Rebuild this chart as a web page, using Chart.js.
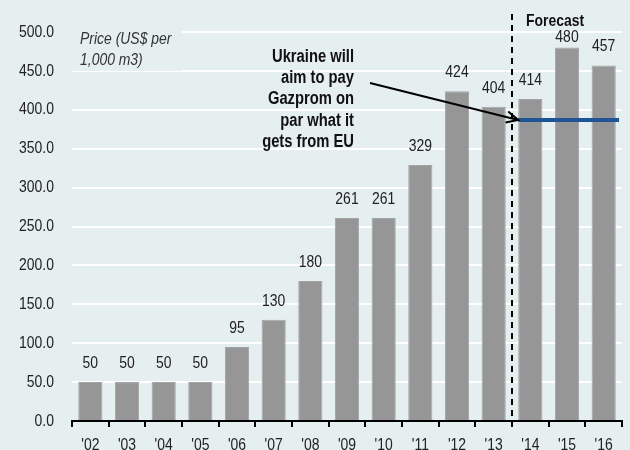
<!DOCTYPE html>
<html>
<head>
<meta charset="utf-8">
<script src="https://cdn.jsdelivr.net/npm/chart.js@4/dist/chart.umd.min.js"></script>
<style>
html,body{margin:0;padding:0;background:#e6eff0;}
#wrap{width:630px;height:450px;}
</style>
</head>
<body>
<div id="wrap"><canvas id="c" width="630" height="450"></canvas></div>
<script>
const categories = ["'02","'03","'04","'05","'06","'07","'08","'09","'10","'11","'12","'13","'14","'15","'16"];
const prices = [50,50,50,50,95,130,180,261,261,329,424,404,414,480,457];
const priceLabels = ["50","50","50","50","95","130","180","261","261","329","424","404","414","480","457"];
const parityPrice = 387;
const forecastStartIndex = 12;
const unitLabel = ["Price (US$ per", "1,000 m3)"];
const noteLines = ["Ukraine will", "aim to pay", "Gazprom on", "par what it", "gets from EU"];
const forecastLabel = "Forecast";

// Narrow (condensed) type: Liberation Sans squeezed horizontally, like Arial Narrow
const FONT = "'Liberation Sans', Arial, sans-serif";
const SQUEEZE = 0.82;

const decor = {
  id: 'decor',
  beforeDraw(chart) {
    const ctx = chart.ctx;
    if (!ctx._narrowPatched) {
      const orig = CanvasRenderingContext2D.prototype.fillText;
      ctx.fillText = function (t, x, y, mw) {
        this.save();
        this.translate(x, y);
        this.scale(SQUEEZE, 1);
        orig.call(this, t, 0, 0);
        this.restore();
      };
      ctx._narrowPatched = true;
    }
    ctx.save();
    ctx.fillStyle = '#e6eff0';
    ctx.fillRect(0, 0, chart.width, chart.height);
    ctx.restore();
  },
  afterDatasetsDraw(chart) {
    const ctx = chart.ctx;
    const xs = chart.scales.x, ys = chart.scales.y, area = chart.chartArea;
    const meta = chart.getDatasetMeta(0);
    ctx.save();
    ctx.textBaseline = 'alphabetic';
    // data labels (kept below the "Forecast" heading)
    ctx.fillStyle = '#222';
    ctx.font = '17px ' + FONT;
    ctx.textAlign = 'center';
    meta.data.forEach((bar, i) => ctx.fillText(priceLabels[i], bar.x, Math.max(bar.y - 14, 42)));
    // unit label with background
    ctx.fillStyle = '#e6eff0';
    ctx.fillRect(area.left, 27, 110, 44);
    ctx.fillStyle = '#333';
    ctx.font = 'italic 17px ' + FONT;
    ctx.textAlign = 'left';
    ctx.fillText(unitLabel[0], 80, 44);
    ctx.fillText(unitLabel[1], 80, 65);
    // dashed forecast line
    const xb = (xs.getPixelForValue(forecastStartIndex - 1) + xs.getPixelForValue(forecastStartIndex)) / 2;
    ctx.strokeStyle = '#000';
    ctx.lineWidth = 2;
    ctx.setLineDash([6, 5]);
    ctx.beginPath();
    ctx.moveTo(xb, 14);
    ctx.lineTo(xb, area.bottom);
    ctx.stroke();
    ctx.setLineDash([]);
    ctx.fillStyle = '#111';
    ctx.font = 'bold 17px ' + FONT;
    ctx.fillText(forecastLabel, xb + 14, 26);
    // parity line
    const b12 = meta.data[forecastStartIndex];
    const yp = ys.getPixelForValue(parityPrice);
    const x0 = b12.x - b12.width / 2;
    ctx.strokeStyle = '#1f5597';
    ctx.lineWidth = 4;
    ctx.beginPath();
    ctx.moveTo(x0, yp);
    ctx.lineTo(area.right - 3, yp);
    ctx.stroke();
    // arrow
    const sx = 370, sy = 83;
    const ex = x0, ey = yp;
    ctx.strokeStyle = '#000';
    ctx.lineWidth = 2;
    ctx.beginPath();
    ctx.moveTo(sx, sy);
    ctx.lineTo(ex, ey);
    ctx.stroke();
    const ang = Math.atan2(ey - sy, ex - sx);
    const hl = 13, ha = 0.45;
    ctx.beginPath();
    ctx.moveTo(ex - hl * Math.cos(ang - ha), ey - hl * Math.sin(ang - ha));
    ctx.lineTo(ex, ey);
    ctx.lineTo(ex - hl * Math.cos(ang + ha), ey - hl * Math.sin(ang + ha));
    ctx.stroke();
    // note text
    ctx.fillStyle = '#111';
    ctx.font = 'bold 18px ' + FONT;
    ctx.textAlign = 'right';
    noteLines.forEach((t, i) => ctx.fillText(t, 354, 62 + i * 21.2));
    ctx.restore();
  }
};

new Chart(document.getElementById('c'), {
  type: 'bar',
  data: {
    labels: categories,
    datasets: [{
      data: prices,
      backgroundColor: '#969696',
      borderColor: '#a4a4a4',
      borderWidth: 1,
      barPercentage: 0.66,
      categoryPercentage: 1.0
    }]
  },
  options: {
    responsive: false,
    animation: false,
    layout: { padding: { top: 32, right: 8, left: 0, bottom: 0 } },
    plugins: { legend: { display: false }, tooltip: { enabled: false } },
    scales: {
      x: {
        grid: { display: true, drawOnChartArea: false, drawTicks: true, tickLength: 6, color: '#000', lineWidth: 2, offset: true },
        border: { display: true, color: '#000', width: 2 },
        ticks: { color: '#222', font: { family: FONT, size: 17 }, padding: 8, maxRotation: 0, autoSkip: false },
        afterFit(s) { s.height = 29; }
      },
      y: {
        min: 0, max: 500,
        grid: { color: '#ffffff', lineWidth: 2, drawTicks: false },
        border: { display: false },
        ticks: { stepSize: 50, color: '#222', font: { family: FONT, size: 17 }, padding: 18,
          callback: v => Number(v).toFixed(1) },
        afterFit(s) { s.width = 72; }
      }
    }
  },
  plugins: [decor]
});
</script>
</body>
</html>
